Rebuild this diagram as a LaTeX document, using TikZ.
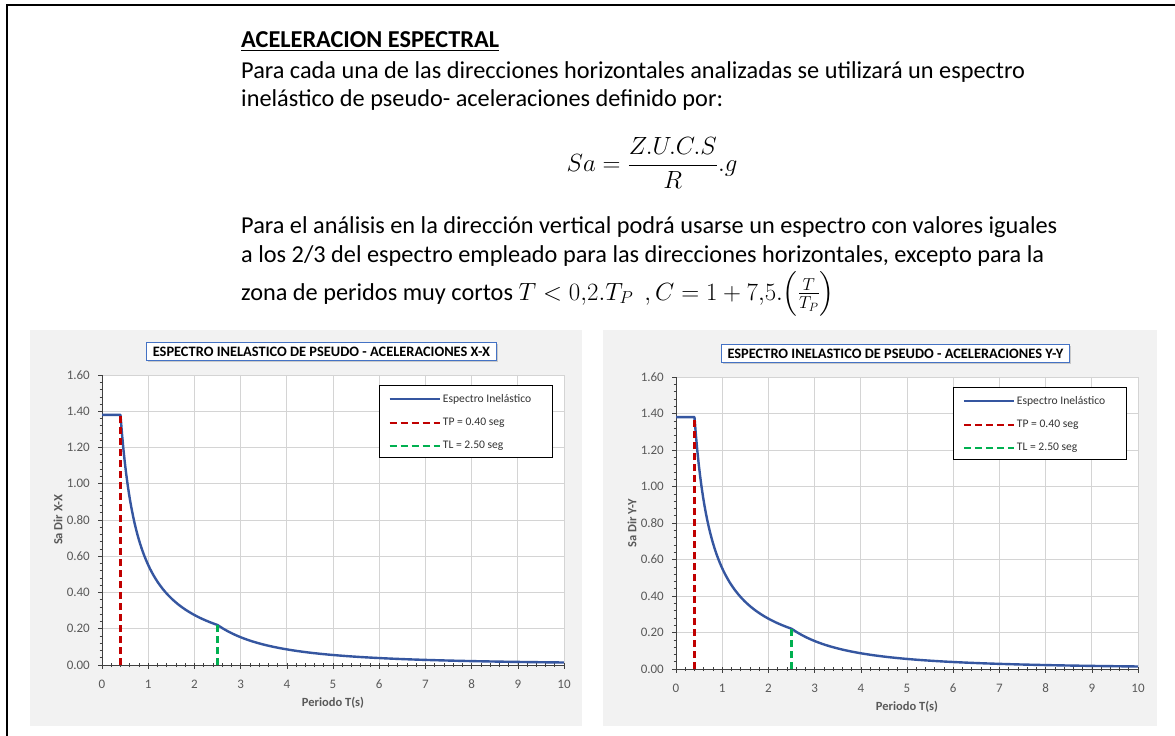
\documentclass[tikz,border=0pt]{standalone}
\usepackage{amsmath}
\usepackage{fontspec}
\setmainfont{Carlito}
\usetikzlibrary{positioning,shadows}

\definecolor{curvaazul}{HTML}{3556A0}
\definecolor{rojotp}{HTML}{C00000}
\definecolor{verdetl}{HTML}{00B050}
\definecolor{fondogris}{HTML}{F2F2F2}
\definecolor{rejilla}{HTML}{D4D4D4}
\definecolor{textogris}{HTML}{595959}
\definecolor{bordetitulo}{HTML}{4472C4}

\tikzset{
  texto/.style={font=\fontsize{24.3}{29}\selectfont, anchor=base west, inner sep=0},
  marca/.style={font=\fontsize{13}{15}\selectfont, text=textogris, inner sep=0},
  ejetitulo/.style={font=\bfseries\fontsize{12.5}{14}\selectfont, text=textogris, inner sep=0},
  titulo/.style={draw=bordetitulo, fill=white, line width=0.8pt, font=\bfseries\fontsize{14.4}{16}\selectfont,
    inner xsep=6pt, inner ysep=4pt, drop shadow={shadow xshift=1.5pt, shadow yshift=-1.5pt, opacity=0.35}},
  leyenda/.style={font=\fontsize{11.6}{13}\selectfont, text=black!80, anchor=west, inner sep=0},
  curva/.style={curvaazul, line width=2.4pt, line join=round},
  tpdash/.style={rojotp, line width=2.4pt, dash pattern=on 7pt off 4pt},
  tldash/.style={verdetl, line width=2.4pt, dash pattern=on 7pt off 4pt},
  ejes/.style={black!75, line width=0.8pt}
}

\begin{document}
\begin{tikzpicture}[x=1pt, y=-1pt]
  \useasboundingbox (0,0) rectangle (1175,736);

  % Marco
  \draw[line width=2.5pt] (7,736) -- (7,5) -- (1175,5);

  % Texto
  \node[texto] (cab) at (241,47) {\underline{\textbf{ACELERACION ESPECTRAL}}};
  \node[texto] (lin1) at (241,78) {Para cada una de las direcciones horizontales analizadas se utilizará un espectro};
  \node[texto] (lin2) at (241,106) {inelástico de pseudo- aceleraciones definido por:};
  \node[font=\fontsize{26.8}{30}\selectfont] (form) at (652,163) {\(\displaystyle Sa=\frac{Z.U.C.S}{R}.g\)};
  \node[texto] (lin3) at (241,233) {Para el análisis en la dirección vertical podrá usarse un espectro con valores iguales};
  \node[texto] (lin4) at (241,262) {a los 2/3 del espectro empleado para las direcciones horizontales, excepto para la};
  \node[texto] (lin5) at (241,300) {zona de peridos muy cortos \smash{\(T<0{,}2.T_P\ \ ,C=1+7{,}5.\Bigl(\frac{T}{T_P}\Bigr)\)}};

  % Graficos
  \foreach \nom/\fx/\gx/\ox/\oy/\sy/\dir in {izq/30/582/102/665/181.25/X-X, der/603/1157/676/669/182.5/Y-Y} {
    \fill[fondogris] (\fx,330) rectangle (\gx,726);
    \begin{scope}[shift={(\ox,\oy)}, x=46.2pt, y=\sy pt]
      \fill[white] (0,0) rectangle (10,1.6);
      % rejilla
      \foreach \gx in {1,...,10}
        \draw[rejilla, line width=0.9pt] (\gx,0) -- (\gx,1.6);
      \foreach \gy in {0.2,0.4,...,1.6}
        \draw[rejilla, line width=0.9pt] (0,\gy) -- (10,\gy);
      % ejes
      \draw[ejes] (0,1.6) -- (0,0) -- (10,0);
      \foreach \m in {0,0.04,...,1.6}
        \draw[ejes, line width=0.6pt] ([xshift=-2.5pt]0,\m) -- ([xshift=1pt]0,\m);
      \foreach \m in {0,0.2,...,10}
        \draw[ejes, line width=0.6pt] ([yshift=-2pt]\m,0) -- ([yshift=2pt]\m,0);
      \foreach \gy/\et in {0/0.00, 0.2/0.20, 0.4/0.40, 0.6/0.60, 0.8/0.80, 1/1.00, 1.2/1.20, 1.4/1.40, 1.6/1.60} {
        \draw[ejes, line width=0.6pt] ([xshift=-4pt]0,\gy) -- (0,\gy);
        \node[marca, anchor=east] at ([xshift=-12pt]0,\gy) {\et};
      }
      \foreach \gx in {0,...,10} {
        \draw[ejes, line width=0.6pt] (\gx,0) -- ([yshift=-4pt]\gx,0);
        \node[marca] at ([yshift=-19pt]\gx,0) {\gx};
      }
      \node[ejetitulo] (ejex\nom) at ([yshift=-38pt]5,0) {Periodo T(s)};
      \node[ejetitulo, rotate=90] (ejey\nom) at ([xshift=-44pt]0,0.8) {Sa Dir \dir};
      % titulo
      \node[titulo] (tit\nom) at ([yshift=23.5pt]4.75,1.6) {ESPECTRO INELASTICO DE PSEUDO - ACELERACIONES \dir};
      % espectro
      \draw[curva] (0,1.38) -- (0.4,1.38)
        -- plot[domain=0.4:2.5, samples=70] (\x,{0.552/\x})
        -- plot[domain=2.5:10, samples=70] (\x,{1.38/(\x*\x)});
      \draw[tpdash] (0.4,0) -- (0.4,1.38);
      \draw[tldash] (2.5,0) -- (2.5,0.2208);
      % leyenda
      \node[draw=black, fill=white, line width=0.9pt, anchor=north west, inner sep=0,
        minimum width=173pt, minimum height=72pt] (ley\nom) at ([yshift=-10pt]5.99,1.6) {};
      \draw[curva] ([xshift=11pt,yshift=-14pt]ley\nom.north west) -- ++(50pt,0pt)
        node[leyenda, right=2pt] {Espectro Inelástico};
      \draw[tpdash] ([xshift=11pt,yshift=-38pt]ley\nom.north west) -- ++(50pt,0pt)
        node[leyenda, right=2pt] {TP = 0.40 seg};
      \draw[tldash] ([xshift=11pt,yshift=-61pt]ley\nom.north west) -- ++(50pt,0pt)
        node[leyenda, right=2pt] {TL = 2.50 seg};
    \end{scope}
  }
\end{tikzpicture}
\end{document}
